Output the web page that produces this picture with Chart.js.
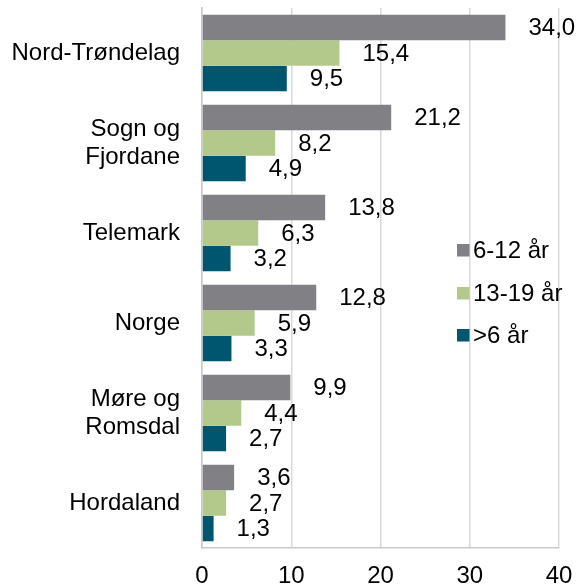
<!DOCTYPE html>
<html>
<head>
<meta charset="utf-8">
<script src="https://cdn.jsdelivr.net/npm/chart.js@4/dist/chart.umd.min.js"></script>
<style>
html,body{margin:0;padding:0;background:#fff;}
#wrap{width:576px;height:584px;position:relative;}
</style>
</head>
<body>
<div id="wrap"><canvas id="c"></canvas></div>
<script>
const categories = ["Nord-Trøndelag", ["Sogn og", "Fjordane"], "Telemark", "Norge", ["Møre og", "Romsdal"], "Hordaland"];
const seriesNames = ["6-12 år", "13-19 år", ">6 år"];
const values612 = [34.0, 21.2, 13.8, 12.8, 9.9, 3.6];
const values1319 = [15.4, 8.2, 6.3, 5.9, 4.4, 2.7];
const valuesUnder6 = [9.5, 4.9, 3.2, 3.3, 2.7, 1.3];
const xTicks = [0, 10, 20, 30, 40];

const FONT = '"Liberation Sans", Arial, sans-serif';
const colors = ["#808085", "#b3c98b", "#00556f"];

const labelPlugin = {
  id: 'valueLabels',
  afterDatasetsDraw(chart) {
    const ctx = chart.ctx;
    ctx.save();
    ctx.font = '24px ' + FONT;
    ctx.fillStyle = '#000';
    ctx.textAlign = 'left';
    ctx.textBaseline = 'middle';
    chart.data.datasets.forEach((ds, i) => {
      const meta = chart.getDatasetMeta(i);
      meta.data.forEach((el, j) => {
        const v = ds.data[j];
        ctx.fillText(v.toFixed(1).replace('.', ','), el.x + 23, el.y + 1);
      });
    });
    ctx.restore();
  }
};

const legendPlugin = {
  id: 'insideLegend',
  afterDraw(chart) {
    const ctx = chart.ctx;
    ctx.save();
    ctx.font = '24px ' + FONT;
    ctx.textAlign = 'left';
    ctx.textBaseline = 'middle';
    const x0 = 457, ys = [250, 293, 335];
    chart.data.datasets.forEach((ds, i) => {
      ctx.fillStyle = ds.backgroundColor;
      ctx.fillRect(x0, ys[i] - 6, 12.5, 12.5);
      ctx.fillStyle = '#000';
      ctx.fillText(ds.label, x0 + 16, ys[i] + 1);
    });
    ctx.restore();
  }
};

new Chart(document.getElementById('c'), {
  type: 'bar',
  data: {
    labels: categories,
    datasets: [
      { label: seriesNames[0], data: values612, backgroundColor: colors[0] },
      { label: seriesNames[1], data: values1319, backgroundColor: colors[1] },
      { label: seriesNames[2], data: valuesUnder6, backgroundColor: colors[2] }
    ]
  },
  options: {
    indexAxis: 'y',
    responsive: true,
    maintainAspectRatio: false,
    animation: false,
    layout: { padding: { top: 8, right: 17, left: 0, bottom: 0 } },
    datasets: { bar: { categoryPercentage: 0.85, barPercentage: 1.0 } },
    plugins: { legend: { display: false }, tooltip: { enabled: false } },
    scales: {
      x: {
        min: 0, max: 40,
        afterBuildTicks(scale) { scale.ticks = xTicks.map(v => ({ value: v })); },
        afterFit(scale) { scale.height = 36; scale.paddingLeft = 0; scale.paddingRight = 0; },
        grid: { color: '#d9d9d9', lineWidth: 1.5, drawTicks: false },
        border: { display: true, color: '#c8c8c8', width: 1.5 },
        ticks: { color: '#000', font: { family: FONT, size: 24 }, padding: 14 }
      },
      y: {
        afterFit(scale) { scale.width = 202; scale.paddingTop = 0; scale.paddingBottom = 0; },
        grid: { display: false, drawTicks: false },
        border: { display: true, color: '#c8c8c8', width: 1.5 },
        ticks: { color: '#000', font: { family: FONT, size: 24, lineHeight: 1.17 }, padding: 22 }
      }
    }
  },
  plugins: [labelPlugin, legendPlugin]
});
</script>
</body>
</html>
